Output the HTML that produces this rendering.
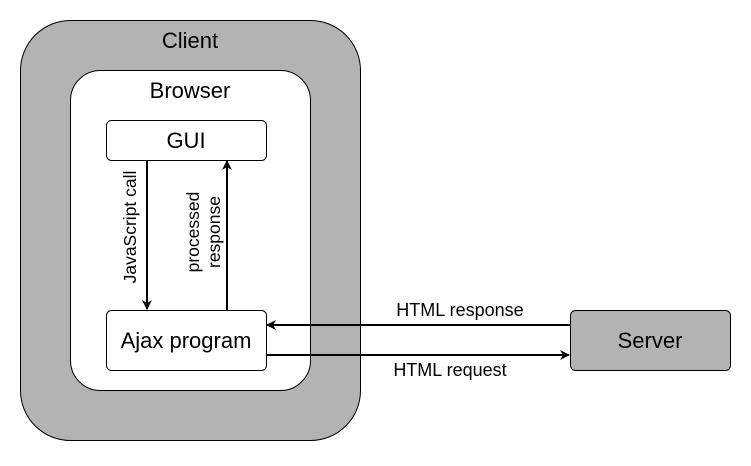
<!DOCTYPE html>
<html><head><meta charset="utf-8"><style>body{margin:0;background:#fff}</style></head>
<body>
<svg width="751" height="461" viewBox="0 0 751 461" xmlns="http://www.w3.org/2000/svg" font-family="Liberation Sans, sans-serif">
<defs><marker id="a" markerWidth="10" markerHeight="10" refX="9" refY="5" orient="auto" markerUnits="userSpaceOnUse"><path d="M0,0 L10,5 L0,10 L3,5 z" fill="#000"/></marker></defs>
<rect x="20.5" y="20.5" width="340" height="420" rx="50" fill="#b3b3b3" stroke="#000"/>
<text x="190" y="48" font-size="22" text-anchor="middle">Client</text>
<rect x="70.5" y="70.5" width="240" height="320" rx="30" fill="#fff" stroke="#000"/>
<text x="190" y="98" font-size="22" text-anchor="middle">Browser</text>
<rect x="106.5" y="120.5" width="160" height="40" rx="5" fill="#fff" stroke="#000"/>
<text x="186" y="148" font-size="22" text-anchor="middle">GUI</text>
<rect x="106.5" y="310.5" width="160" height="60" rx="5" fill="#fff" stroke="#000"/>
<text x="186" y="348" font-size="22" text-anchor="middle">Ajax program</text>
<rect x="570.5" y="310.5" width="160" height="60" rx="5" fill="#b3b3b3" stroke="#000"/>
<text x="650" y="348" font-size="22" text-anchor="middle">Server</text>
<line x1="147" y1="160" x2="147" y2="309" stroke="#000" stroke-width="2" marker-end="url(#a)"/>
<line x1="227" y1="310" x2="227" y2="161" stroke="#000" stroke-width="2" marker-end="url(#a)"/>
<line x1="570" y1="325" x2="267" y2="325" stroke="#000" stroke-width="2" marker-end="url(#a)"/>
<line x1="266" y1="355" x2="569" y2="355" stroke="#000" stroke-width="2" marker-end="url(#a)"/>
<text transform="translate(136,227) rotate(-90)" font-size="17.5" text-anchor="middle">JavaScript call</text>
<text transform="translate(199,232) rotate(-90)" font-size="17.5" text-anchor="middle">processed</text>
<text transform="translate(220,232) rotate(-90)" font-size="17.5" text-anchor="middle">response</text>
<text x="460" y="316" font-size="18" text-anchor="middle">HTML response</text>
<text x="450" y="376" font-size="18" text-anchor="middle">HTML request</text>
</svg>
</body></html>
